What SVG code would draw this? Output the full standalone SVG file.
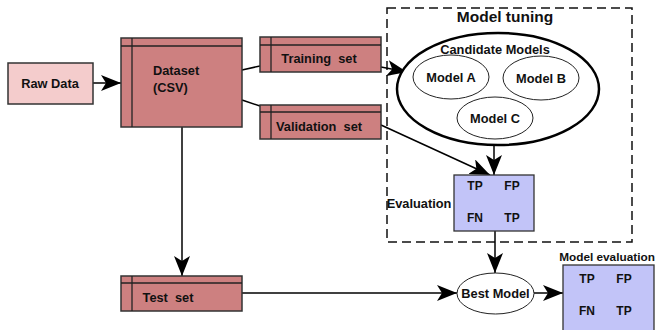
<svg xmlns="http://www.w3.org/2000/svg" width="660" height="330" viewBox="0 0 660 330">
<style>
text{font-family:"Liberation Sans",Arial,sans-serif;font-weight:bold;fill:#111;}
.t12{font-size:12.8px;}
.t11{font-size:12px;}
.ds{fill:#cd8080;stroke:#333;stroke-width:1.5;}
.in{fill:none;stroke:#222;stroke-width:1.3;}
.blue{fill:#c2c4f8;stroke:#333;stroke-width:1.3;}
.el{fill:#fff;stroke:#222;stroke-width:1;}
.c{fill:none;stroke:#000;stroke-width:1.5;}
</style>
<defs>
<marker id="ah" markerUnits="userSpaceOnUse" markerWidth="22" markerHeight="16" refX="20" refY="8" orient="auto">
<path d="M0,0 L20,8 L0,16 L5,8 z" fill="#000"/>
</marker>
</defs>
<rect width="660" height="330" fill="#fff"/>

<g id="model-tuning">
<rect x="387" y="8" width="245" height="234" fill="none" stroke="#111" stroke-width="1.5" stroke-dasharray="9 5"/>
<text x="505" y="22" text-anchor="middle" style="font-size:15.5px">Model tuning</text>
</g>

<g id="connectors">
<line class="c" x1="93" y1="83" x2="121" y2="83" marker-end="url(#ah)"/>
<line class="c" x1="242" y1="70" x2="260" y2="66"/>
<line class="c" x1="242" y1="100" x2="260" y2="106"/>
<line class="c" x1="381" y1="67" x2="407" y2="72" marker-end="url(#ah)"/>
<line class="c" x1="381" y1="125" x2="490" y2="175" marker-end="url(#ah)"/>
<line class="c" x1="494" y1="145" x2="494" y2="175" marker-end="url(#ah)"/>
<line class="c" x1="182" y1="127" x2="182" y2="276" marker-end="url(#ah)"/>
<line class="c" x1="495" y1="231" x2="495" y2="273" marker-end="url(#ah)"/>
<line class="c" x1="242" y1="293" x2="457" y2="293" marker-end="url(#ah)"/>
<line class="c" x1="534" y1="293" x2="563" y2="293" marker-end="url(#ah)"/>
</g>

<g id="raw-data">
<rect x="8" y="63" width="85" height="41" fill="#f4cccc" stroke="#333" stroke-width="1.5"/>
<text class="t12" x="50" y="88" text-anchor="middle">Raw Data</text>
</g>

<g id="dataset">
<rect class="ds" x="121" y="38" width="121" height="89"/>
<line class="in" x1="132" y1="38" x2="132" y2="127"/>
<line class="in" x1="121" y1="46" x2="242" y2="46"/>
<text class="t12" x="153" y="75">Dataset</text>
<text class="t12" x="153" y="92">(CSV)</text>
</g>

<g id="training-set">
<rect class="ds" x="260" y="37" width="121" height="35"/>
<line class="in" x1="271" y1="37" x2="271" y2="72"/>
<line class="in" x1="260" y1="45" x2="381" y2="45"/>
<text class="t12" x="319" y="63" text-anchor="middle" xml:space="preserve">Training  set</text>
</g>

<g id="validation-set">
<rect class="ds" x="260" y="105" width="121" height="34"/>
<line class="in" x1="271" y1="105" x2="271" y2="139"/>
<line class="in" x1="260" y1="112" x2="381" y2="112"/>
<text class="t12" x="319" y="131" text-anchor="middle" xml:space="preserve">Validation  set</text>
</g>

<g id="test-set">
<rect class="ds" x="121" y="276" width="121" height="35"/>
<line class="in" x1="132" y1="276" x2="132" y2="311"/>
<line class="in" x1="121" y1="283" x2="242" y2="283"/>
<text class="t12" x="168" y="302" text-anchor="middle" xml:space="preserve">Test  set</text>
</g>

<g id="candidate-models">
<ellipse cx="498" cy="89" rx="101" ry="56" fill="#fff" stroke="#000" stroke-width="2.5"/>
<text class="t12" x="495" y="54" text-anchor="middle">Candidate Models</text>
</g>

<g id="model-a">
<ellipse class="el" cx="451" cy="77" rx="38" ry="22"/>
<text class="t12" x="451" y="82" text-anchor="middle">Model A</text>
</g>
<g id="model-b">
<ellipse class="el" cx="541" cy="78" rx="38" ry="22"/>
<text class="t12" x="541" y="83" text-anchor="middle">Model B</text>
</g>
<g id="model-c">
<ellipse class="el" cx="495" cy="118" rx="38" ry="21"/>
<text class="t12" x="495" y="123" text-anchor="middle">Model C</text>
</g>

<g id="evaluation">
<rect class="blue" x="454" y="175" width="80" height="56"/>
<text class="t11" x="475" y="190" text-anchor="middle">TP</text>
<text class="t11" x="512" y="190" text-anchor="middle">FP</text>
<text class="t11" x="475" y="222" text-anchor="middle">FN</text>
<text class="t11" x="512" y="222" text-anchor="middle">TP</text>
<text class="t12" x="419" y="208" text-anchor="middle">Evaluation</text>
</g>

<g id="best-model">
<ellipse class="el" cx="495.5" cy="293.5" rx="38.5" ry="20.5"/>
<text class="t12" x="495.5" y="298" text-anchor="middle">Best Model</text>
</g>

<g id="model-evaluation">
<rect class="blue" x="563" y="265" width="91" height="80"/>
<text class="t11" x="587" y="283" text-anchor="middle">TP</text>
<text class="t11" x="624" y="283" text-anchor="middle">FP</text>
<text class="t11" x="587" y="315" text-anchor="middle">FN</text>
<text class="t11" x="624" y="315" text-anchor="middle">TP</text>
<text x="607" y="261" text-anchor="middle" style="font-size:11.8px">Model evaluation</text>
</g>
</svg>
